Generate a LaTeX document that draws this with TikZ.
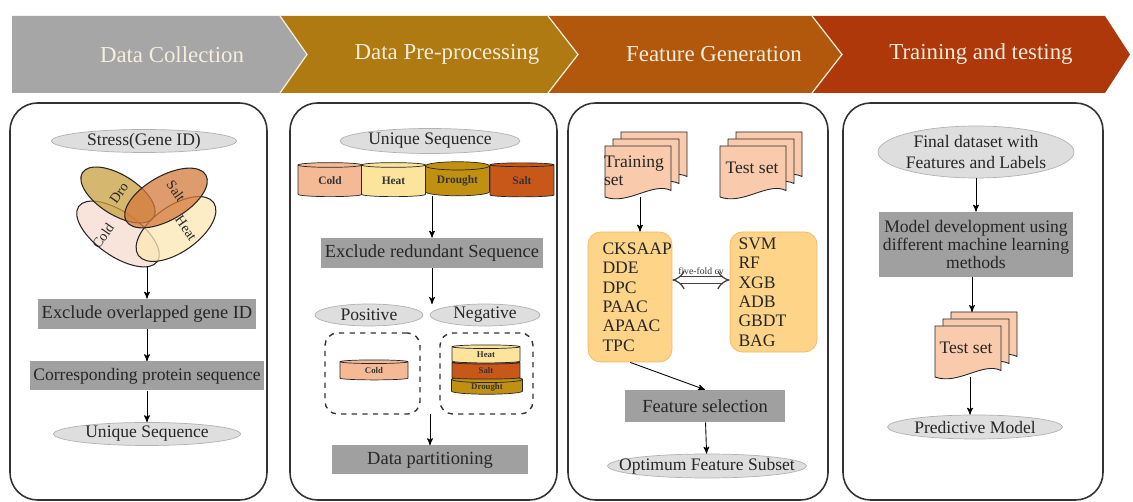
\documentclass[tikz,border=0pt]{standalone}
\usepackage{fontspec}
\setmainfont{Liberation Serif}
\usepackage{tikz}
\usetikzlibrary{positioning}
\usetikzlibrary{arrows}
\usetikzlibrary{arrows.meta}
\usetikzlibrary{shapes,calc}

\definecolor{bangray}{RGB}{166,166,166}
\definecolor{bangold}{RGB}{176,122,18}
\definecolor{banorange}{RGB}{178,88,12}
\definecolor{banred}{RGB}{174,56,10}
\definecolor{bantext}{RGB}{245,238,222}
\definecolor{boxgray}{RGB}{160,160,160}
\definecolor{ellgray}{RGB}{222,222,222}
\definecolor{coldc}{RGB}{244,186,150}
\definecolor{heatc}{RGB}{252,228,156}
\definecolor{droc}{RGB}{192,144,16}
\definecolor{saltc}{RGB}{200,88,26}
\definecolor{listc}{RGB}{253,212,136}
\definecolor{listedge}{RGB}{243,185,94}
\definecolor{pagec}{RGB}{250,202,172}
\definecolor{vcold}{RGB}{247,220,208}
\definecolor{vheat}{RGB}{252,232,180}
\definecolor{vdro}{RGB}{201,160,64}
\definecolor{vsalt}{RGB}{212,122,60}

\tikzset{
  banner/.style={draw=bantext, line width=0.7pt},
  bantitle/.style={text=bantext, font=\fontsize{13}{15}\selectfont},
  panel/.style={draw=black!80, line width=0.9pt, rounded corners=0.55cm},
  stepbox/.style={fill=boxgray, inner sep=2pt, text=black!85, font=\fontsize{10.5}{12}\selectfont},
  oval/.style={ellipse, fill=ellgray, draw=black!30, inner ysep=0pt, inner xsep=-10pt, text=black!85,
               font=\fontsize{10}{11.5}\selectfont},
  cyl/.style={cylinder, shape border rotate=90, draw=black!85, aspect=0.2, inner sep=0pt,
              text=black!80, font=\bfseries\fontsize{6.5}{7}\selectfont},
  dashbox/.style={draw=black!80, dashed, thick, rounded corners=0.25cm},
  listbox/.style={fill=listc, draw=listedge, rounded corners=0.25cm, align=left,
                  text=black!85, font=\fontsize{10}{11}\selectfont},
  doctext/.style={align=left, text=black!85, inner sep=0pt, font=\fontsize{10}{10.5}\selectfont},
  docpage/.style={fill=pagec, draw=black!85, line width=0.5pt},
  venn/.style={draw=black!85, line width=0.6pt, fill opacity=0.75},
  vlabel/.style={text=black!85, inner sep=0pt, font=\fontsize{8}{9}\selectfont},
  cvarrow/.style={double=white, double distance=3pt, line width=0.7pt, draw=black!75,
                  -{Implies[length=5pt]}},
  pics/docstack/.style={code={
    \foreach \d in {2,1,0}
      \draw[docpage] (-33+8*\d,-25.5-7*\d) -- (33+8*\d,-25.5-7*\d) -- (33+8*\d,19-7*\d)
        .. controls (15+8*\d,10-7*\d) and (-10+8*\d,34-7*\d) .. (-33+8*\d,25.5-7*\d) -- cycle;
    \coordinate (-top) at (4,-39.5);
    \coordinate (-bot) at (2,26);
  }}
}

\begin{document}
\begin{tikzpicture}[x=0.02cm, y=-0.02cm]
	\useasboundingbox (0,0) rectangle (1133,502);
	\fill[white] (0,0) rectangle (1133,502);

	% stage banner
	\fill[bangray] (12,16) -- (280,16) -- (307,54.5) -- (280,93) -- (12,93) -- cycle;
	\fill[bangold] (280,16) -- (548,16) -- (578,54.5) -- (548,93) -- (280,93) -- (307,54.5) -- cycle;
	\fill[banorange] (548,16) -- (812,16) -- (842,54.5) -- (812,93) -- (548,93) -- (578,54.5) -- cycle;
	\fill[banred] (812,16) -- (1105,16) -- (1130,54.5) -- (1105,93) -- (812,93) -- (842,54.5) -- cycle;
	\draw[banner] (280,16) -- (307,54.5) -- (280,93);
	\draw[banner] (548,16) -- (578,54.5) -- (548,93);
	\draw[banner] (812,16) -- (842,54.5) -- (812,93);
	\node[bantitle] (collect) at (172,54.5) {Data Collection};
	\node[bantitle] (preproc) at (447,54.5) {Data Pre-processing};
	\node[bantitle] (featgen) at (714,54.5) {Feature Generation};
	\node[bantitle] (traintest) at (981,54.5) {Training and testing};

	% panels
	\draw[panel] (10,103) rectangle (267,500);
	\draw[panel] (290,103) rectangle (557,500);
	\draw[panel] (568,103) rectangle (828,500);
	\draw[panel] (843,103) rectangle (1103,500);

	% data collection
	\node[oval, minimum width=3.7cm, minimum height=0.46cm] (stress) at (144,141) {Stress(Gene ID)};
	\begin{scope}[venn]
	    \draw[fill=vcold, rotate around={-35:(118,234)}] (118,234) ellipse [x radius=48, y radius=22];
	    \draw[fill=vheat, rotate around={35:(176,229)}] (176,229) ellipse [x radius=46, y radius=23];
	    \draw[fill=vdro, rotate around={-32:(118,195)}] (118,195) ellipse [x radius=42, y radius=20];
	    \draw[fill=vsalt, rotate around={30:(166,198)}] (166,198) ellipse [x radius=46, y radius=22];
	\end{scope}
	\node[vlabel, rotate=55] (vcoldl) at (103,236) {Cold};
	\node[vlabel, rotate=55] (vdrol) at (119,193) {Dro};
	\node[vlabel, rotate=-55] (vsaltl) at (176,191) {Salt};
	\node[vlabel, rotate=-55] (vheatl) at (186,228) {Heat};
	\coordinate (venn) at (147,266);
	\node[stepbox, minimum width=4.36cm, minimum height=0.6cm] (exover) at (147,314) {Exclude overlapped gene ID};
	\node[stepbox, minimum width=4.46cm, minimum height=0.58cm, font=\fontsize{10}{12}\selectfont] (protseq) at (147,376)
	    {Corresponding protein sequence};
	\node[oval, minimum width=3.74cm, minimum height=0.46cm] (uniq1) at (147,434) {Unique Sequence};

	% data pre-processing
	\node[oval, minimum width=3.6cm, minimum height=0.5cm] (uniq2) at (430,141) {Unique Sequence};
	\node[cyl, fill=coldc, minimum width=1.28cm, minimum height=0.68cm] (cold) at (330,181) {Cold};
	\node[cyl, fill=heatc, minimum width=1.28cm, minimum height=0.68cm] (heat) at (393.5,181) {Heat};
	\node[cyl, fill=droc, minimum width=1.28cm, minimum height=0.68cm] (drought) at (457.5,181) {Drought};
	\node[cyl, fill=saltc, minimum width=1.28cm, minimum height=0.68cm] (salt) at (522,181) {Salt};
	\node[stepbox, minimum width=4.42cm, minimum height=0.6cm] (exred) at (432,253) {Exclude redundant Sequence};
	\coordinate (split) at (432,304);
	\node[oval, minimum width=2.16cm, minimum height=0.44cm] (pos) at (369,315) {Positive};
	\node[oval, minimum width=2.2cm, minimum height=0.44cm] (neg) at (485,315) {Negative};
	\node[dashbox, minimum width=1.9cm, minimum height=1.62cm] (posbox) at (372.5,373.5) {};
	\node[dashbox, minimum width=1.86cm, minimum height=1.62cm] (negbox) at (486.5,373.5) {};
	\node[cyl, fill=coldc, minimum width=1.36cm, minimum height=0.4cm,
	      font=\bfseries\fontsize{5}{6}\selectfont] (coldpos) at (374,371) {Cold};
	\begin{scope}[every node/.style={cyl, minimum width=1.36cm, minimum height=0.36cm,
	                                 font=\bfseries\fontsize{5}{6}\selectfont}]
	    \node[fill=droc, minimum width=1.42cm] (droneg) at (487,387) {Drought};
	    \node[fill=saltc] (saltneg) at (486,371) {Salt};
	    \node[fill=heatc] (heatneg) at (486,355) {Heat};
	\end{scope}
	\coordinate (merge) at (430,414);
	\node[stepbox, minimum width=3.92cm, minimum height=0.58cm] (partition) at (430,460) {Data partitioning};

	% feature generation
	\pic (trainpg) at (638,171.5) {docstack};
	\node[doctext] (train) at (634,171) {Training\\set};
	\pic (testpg) at (753,171.5) {docstack};
	\node[doctext] (test1) at (752,168) {Test set};
	\node[listbox, text width=1.1cm, minimum width=1.68cm, minimum height=2.6cm] (feat) at (630,297)
	    {CKSAAP\\DDE\\DPC\\PAAC\\APAAC\\TPC};
	\node[listbox, text width=1.4cm, minimum width=1.74cm, minimum height=2.4cm] (clf) at (773.5,292)
	    {SVM\\RF\\XGB\\ADB\\GBDT\\BAG};
	\coordinate (cvmid) at (701,280);
	\draw[cvarrow] (cvmid) -- (clf.west |- cvmid);
	\draw[cvarrow] (cvmid) -- (feat.east |- cvmid);
	\node[above=3pt of cvmid, inner sep=0pt, text=black!80, font=\fontsize{5.5}{6}\selectfont] (cv) {five-fold cv};
	\node[stepbox, minimum width=3.2cm, minimum height=0.64cm] (fsel) at (705,406) {Feature selection};
	\node[oval, minimum width=3.6cm, minimum height=0.48cm] (optim) at (707,466) {Optimum Feature Subset};

	% training and testing
	\node[oval, minimum width=3.92cm, minimum height=1.04cm, align=center] (final) at (976,152)
	    {Final dataset with\\Features and Labels};
	\node[stepbox, minimum width=3.68cm, minimum height=1.3cm, align=center,
	      font=\fontsize{10}{10.5}\selectfont] (model) at (976,244.5)
	    {Model development using\\different machine learning\\methods};
	\pic (testpg2) at (968,351.5) {docstack};
	\node[doctext] (test2) at (966,348) {Test set};
	\node[oval, minimum width=3.5cm, minimum height=0.48cm] (predict) at (975,427) {Predictive Model};

	\begin{scope}[>=stealth',
	              every edge/.style={draw=black, line width=0.5pt}]
	    \path [->] (venn) edge (exover);
	    \path [->] (exover) edge (protseq);
	    \path [->] (protseq) edge (uniq1);
	    \path [->] (exred.north |- drought.south) edge (exred.north);
	    \path [->] (exred) edge (split);
	    \path [->] (merge) edge (partition);
	    \path [->] (trainpg-bot) edge (trainpg-bot |- feat.north);
	    \path [->] (feat.south) edge (fsel.north);
	    \path [->] (fsel) edge (optim);
	    \path [->] (final) edge (model);
	    \path [->] (model.south -| testpg2-top) edge (testpg2-top);
	    \path [->] (testpg2-bot) edge (testpg2-bot |- predict.north);
	\end{scope}
\end{tikzpicture}
\end{document}
